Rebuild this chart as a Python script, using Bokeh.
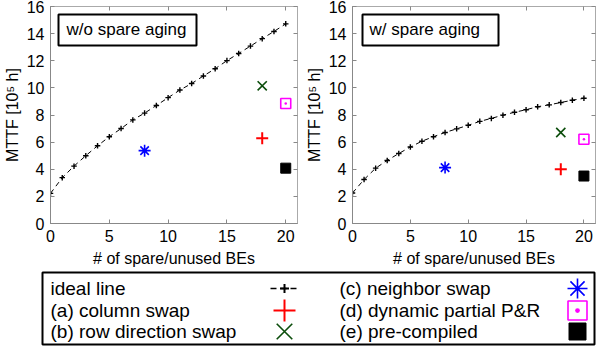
from bokeh.plotting import figure
from bokeh.layouts import column, row
from bokeh.models import Range1d, Label, BoxAnnotation, FixedTicker, ColumnDataSource, LinearAxis
from bokeh.embed import file_html
from bokeh.resources import INLINE
from bokeh.core.properties import value

# ---------------- data ----------------
spare_bes = list(range(21))
ideal_wo_aging = [2.22, 3.38, 4.23, 5.00, 5.73, 6.40, 7.00, 7.64, 8.14, 8.70, 9.28,
                  9.84, 10.32, 10.88, 11.41, 12.01, 12.54, 13.08, 13.63, 14.16, 14.72]
ideal_w_aging = [2.25, 3.24, 4.08, 4.65, 5.16, 5.64, 6.07, 6.40, 6.71, 6.98, 7.24,
                 7.53, 7.75, 7.99, 8.20, 8.39, 8.61, 8.75, 8.92, 9.09, 9.23]

# methods (a)..(e)
method_spare = [18, 18, 8, 20, 20]
method_wo_aging = [6.28, 10.15, 5.37, 8.85, 4.08]
method_w_aging = [4.00, 6.71, 4.12, 6.21, 3.50]

legend_labels = ["ideal line", "(a) column swap", "(b) row direction swap",
                 "(c) neighbor swap", "(d) dynamic partial P&R", "(e) pre-compiled"]
panel_titles = ["w/o spare aging", "w/ spare aging"]
x_ticks = [0, 5, 10, 15, 20]
y_ticks = [0, 2, 4, 6, 8, 10, 12, 14, 16]

FONT = "Liberation Sans"
styles = [
    dict(marker="cross", line_color="#ff0000", fill_color=None, line_width=2),
    dict(marker="x", line_color="#0b4d0b", fill_color=None, line_width=1.6),
    dict(marker="asterisk", line_color="#0000ff", fill_color=None, line_width=1.6),
    dict(marker="square_dot", line_color="#ff00ff", fill_color=None, line_width=1.6),
    dict(marker="square", line_color="black", fill_color="black", line_width=1),
]
plot_sizes = [12, 13, 12, 10, 10]
legend_sizes = [22, 22, 20, 19, 17]


def mirror_axis(ticks):
    ax = LinearAxis(ticker=FixedTicker(ticks=ticks))
    ax.major_label_overrides = {t: "" for t in ticks}
    ax.major_label_text_color = None
    ax.major_label_text_font_size = "1px"
    ax.major_label_standoff = 0
    ax.axis_line_color = "#aaaaaa"
    ax.major_tick_line_color = "#888888"
    ax.major_tick_in = 4
    ax.major_tick_out = 0
    ax.minor_tick_in = 0
    ax.minor_tick_out = 0
    return ax


def make_panel(ideal, method_vals, title, width, border_left, border_right, box_l, box_r, text_x):
    p = figure(width=width, height=270, output_backend="svg", toolbar_location=None,
               x_range=Range1d(0, 21), y_range=Range1d(0, 16),
               min_border_left=border_left, min_border_right=border_right,
               min_border_top=6, min_border_bottom=47)
    p.grid.visible = False
    p.outline_line_color = "#aaaaaa"
    p.background_fill_color = "white"
    p.border_fill_color = "white"

    src = ColumnDataSource(dict(x=spare_bes, y=ideal))
    p.line("x", "y", source=src, line_color="black", line_width=1, line_dash="5 4")
    p.scatter("x", "y", source=src, marker="cross", size=5.5, line_color="black", line_width=1.4)

    for i, st in enumerate(styles):
        s = ColumnDataSource(dict(x=[method_spare[i]], y=[method_vals[i]]))
        p.scatter("x", "y", source=s, size=plot_sizes[i], **st)

    p.xaxis.ticker = FixedTicker(ticks=x_ticks)
    p.yaxis.ticker = FixedTicker(ticks=y_ticks)
    p.xaxis.axis_label = "# of spare/unused BEs"
    p.yaxis.axis_label = "MTTF [10\u2075 h]"
    for ax in (p.xaxis[0], p.yaxis[0]):
        ax.axis_line_color = "#888888"
        ax.major_tick_line_color = "#888888"
        ax.major_tick_in = 4
        ax.major_tick_out = 0
        ax.minor_tick_in = 0
        ax.minor_tick_out = 0
        ax.major_label_text_font = FONT
        ax.major_label_text_font_size = "16px"
        ax.major_label_text_color = "black"
        ax.axis_label_text_font = FONT
        ax.axis_label_text_font_size = "16px"
        ax.axis_label_text_font_style = "normal"
        ax.axis_label_text_color = "black"
    p.xaxis.major_label_standoff = 6
    p.xaxis.axis_label_standoff = 5
    p.yaxis.major_label_standoff = 6
    p.yaxis.axis_label_standoff = 3
    p.add_layout(mirror_axis(x_ticks), "above")
    p.add_layout(mirror_axis(y_ticks), "right")

    p.add_layout(BoxAnnotation(left=box_l, right=box_r, top=209, bottom=178,
                               left_units="screen", right_units="screen",
                               top_units="screen", bottom_units="screen",
                               fill_color="white", fill_alpha=1,
                               line_color="black", line_alpha=1, line_width=2))
    p.add_layout(Label(x=text_x, y=194, x_units="screen", y_units="screen", text=title,
                       text_font=FONT, text_font_size="17px", text_baseline="middle",
                       text_color="black"))
    return p


p1 = make_panel(ideal_wo_aging, method_wo_aging, panel_titles[0], 302, 44, 5, 8, 146, 16)
p2 = make_panel(ideal_w_aging, method_w_aging, panel_titles[1], 295, 49, 2, 10, 146, 17)

# ---------------- legend panel ----------------
lg = figure(width=597, height=76, output_backend="svg", toolbar_location=None,
            x_range=Range1d(0, 597), y_range=Range1d(76, 0),
            x_axis_location=None, y_axis_location=None,
            min_border=0, min_border_left=0, min_border_right=0,
            min_border_top=0, min_border_bottom=0)
lg.grid.visible = False
lg.outline_line_color = None
lg.add_layout(BoxAnnotation(left=42, right=594, top=2, bottom=74,
                            fill_color="white", fill_alpha=0,
                            line_color="black", line_alpha=1, line_width=2))
row_y = [18, 40, 61]
label_x = [50, 339]
key_x = [284, 577]
lx, ly = [], []
for i, lab in enumerate(legend_labels):
    lx.append(label_x[i // 3])
    ly.append(row_y[i % 3])
lg.text(x=lx, y=ly, text=legend_labels, text_font=value(FONT), text_font_size="19px",
        text_baseline="middle", text_color="black")
# ideal line key
lg.line(x=[270, 297], y=[row_y[0], row_y[0]], line_color="black", line_width=1.5, line_dash="6 4")
lg.scatter(x=[key_x[0]], y=[row_y[0]], marker="cross", size=9, line_color="black", line_width=2)
for i, st in enumerate(styles):
    j = i + 1
    lg.scatter(x=[key_x[j // 3]], y=[row_y[j % 3]], size=legend_sizes[i], **st)

layout = column(row(p1, p2), lg)
open("out.html", "w").write(file_html(layout, INLINE))
